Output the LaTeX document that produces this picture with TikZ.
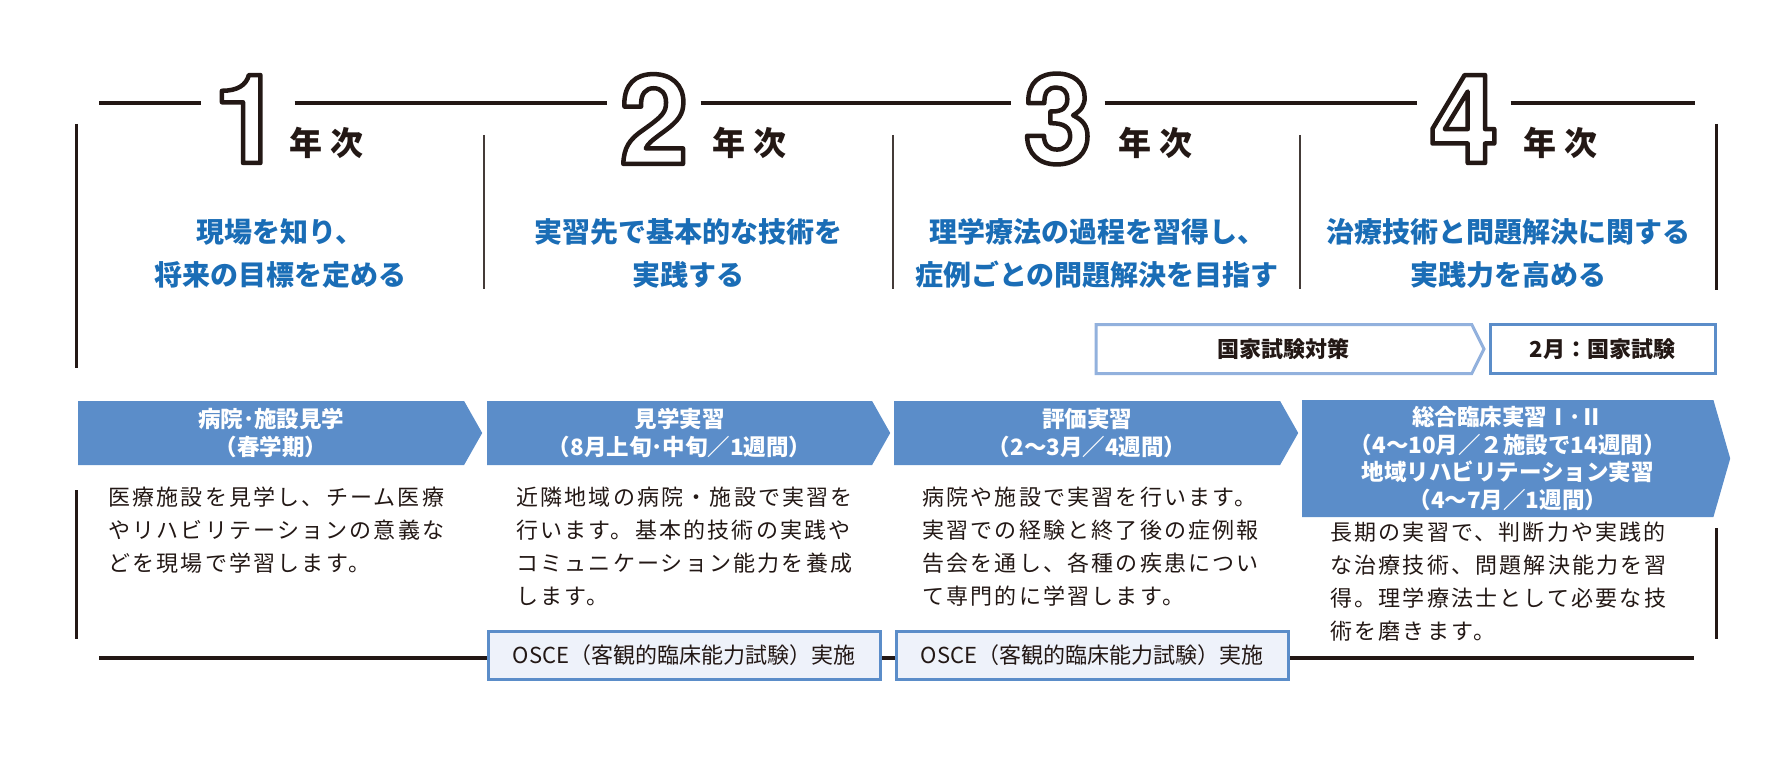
\documentclass[tikz,border=0pt]{standalone}
\usepackage{fontspec}
\usepackage{xcolor}
\setmainfont{Noto Sans CJK JP}
\newfontfamily\descfont[LetterSpace=10]{Noto Sans CJK JP}
\newfontfamily\yearfont[LetterSpace=22]{Noto Sans CJK JP}
\newfontfamily\digitfont{TeX Gyre Heros}
\usetikzlibrary{positioning,shapes.symbols}
\definecolor{ink}{HTML}{231815}
\definecolor{lead}{HTML}{1A6DB6}
\definecolor{phase}{HTML}{5B8DC9}
\definecolor{prep}{HTML}{92B1DD}
\definecolor{osce}{HTML}{EEF2FA}
% outlined numbers (stroke only)
\newcommand{\yearno}[1]{\special{pdf:literal direct 1 Tr 4.5 w 1 j}#1\special{pdf:literal direct 0 Tr}}
\tikzset{%
	rule/.style     = {line width=3.5pt, ink},
	edge/.style     = {line width=3pt, ink},
	divider/.style  = {line width=1.3pt, ink!85},
	digit/.style    = {font=\digitfont\bfseries\fontsize{124}{124}\selectfont, text=ink, inner xsep=12pt, inner ysep=0pt},
	year/.style     = {font=\yearfont\bfseries\fontsize{33}{33}\selectfont, text=ink, inner sep=0pt},
	lead/.style     = {font=\bfseries\fontsize{28}{43}\selectfont, text=lead, align=center, inner sep=0pt},
	phase/.style    = {signal, signal to=east, fill=phase, text=white, font=\bfseries\fontsize{22.5}{27.5}\selectfont, align=center, inner sep=0pt, anchor=west},
	prep/.style     = {signal, signal to=east, signal pointer angle=127, draw=prep, fill=white, line width=3pt, minimum width=388pt, minimum height=49pt, font=\bfseries\fontsize{22}{22}\selectfont, text=ink, inner sep=0pt, anchor=west},
	exam/.style     = {draw=phase, fill=white, line width=3pt, minimum width=225pt, minimum height=49pt, font=\bfseries\fontsize{22}{22}\selectfont, text=ink, inner sep=0pt, anchor=west},
	osce/.style     = {draw=phase, fill=osce, line width=3pt, minimum width=392pt, minimum height=48pt, font=\fontsize{22}{22}\selectfont, text=ink, inner sep=0pt, anchor=west},
	desc/.style     = {font=\descfont\fontsize{22}{33}\selectfont, text=ink, align=left, anchor=north west, inner sep=0pt},
}
\begin{document}
\begin{tikzpicture}[x=1pt, y=-1pt]
	\useasboundingbox (0,0) rectangle (1790,773);

	% year numbers
	\node[digit] (d1) at (248,119) {\yearno{1}};
	\node[digit] (d2) at (654,119) {\yearno{2}};
	\node[digit] (d3) at (1058,119) {\yearno{3}};
	\node[digit] (d4) at (1464,119) {\yearno{4}};
	\node[year, right=-5pt of d1, yshift=-24pt] (y1) {年次};
	\node[year, right=12pt of d2, yshift=-24pt] (y2) {年次};
	\node[year, right=14pt of d3, yshift=-24pt] (y3) {年次};
	\node[year, right=13pt of d4, yshift=-24pt] (y4) {年次};

	% frame
	\coordinate (tl) at (99,103);
	\coordinate (tr) at (1695,103);
	\coordinate (bl) at (99,658);
	\coordinate (br) at (1694,658);
	\draw[rule] (tl) -- (tl -| d1.west);
	\draw[rule] (tl -| d1.east) -- (tl -| d2.west);
	\draw[rule] (tl -| d2.east) -- (tl -| d3.west);
	\draw[rule] (tl -| d3.east) -- (tl -| d4.west);
	\draw[rule] (tl -| d4.east) -- (tr);
	\draw[rule] (bl) -- (br);
	\draw[edge] (76,124) -- (76,368);
	\draw[edge] (76,490) -- (76,639);
	\draw[edge] (1716,124) -- (1716,290);
	\draw[edge] (1716,528) -- (1716,639);
	\draw[divider] (484,135) -- (484,289);
	\draw[divider] (893,135) -- (893,289);
	\draw[divider] (1300,135) -- (1300,289);

	% aims
	\node[lead] (a1) at (280,253) {現場を知り、\\将来の目標を定める};
	\node[lead] (a2) at (688,253) {実習先で基本的な技術を\\実践する};
	\node[lead] (a3) at (1097,253) {理学療法の過程を習得し、\\症例ごとの問題解決を目指す};
	\node[lead] (a4) at (1508,253) {治療技術と問題解決に関する\\実践力を高める};

	% national exam
	\node[prep] (np) at (1094.5,349) {国家試験対策};
	\node[exam] (ne) at (1488.5,349) {2月：国家試験};

	% practice
	\node[phase, minimum width=404pt, minimum height=64pt, signal pointer angle=121] (p1) at (78,433) {病院･施設見学\\（春学期）};
	\node[phase, minimum width=403pt, minimum height=64pt, signal pointer angle=121] (p2) at (487,433) {見学実習\\（8月上旬･中旬／1週間）};
	\node[phase, minimum width=404pt, minimum height=64pt, signal pointer angle=121] (p3) at (894,433) {評価実習\\（2〜3月／4週間）};
	\node[phase, minimum width=428pt, minimum height=117pt, signal pointer angle=148] (p4) at (1302,458.5) {総合臨床実習Ⅰ･Ⅱ\\（4〜10月／２施設で14週間）\\地域リハビリテーション実習\\（4〜7月／1週間）};

	\node[desc] (t1) at (108,487) {医療施設を見学し、チーム医療\\やリハビリテーションの意義な\\どを現場で学習します。};
	\node[desc] (t2) at (516,487) {近隣地域の病院・施設で実習を\\行います。基本的技術の実践や\\コミュニケーション能力を養成\\します。};
	\node[desc] (t3) at (922,487) {病院や施設で実習を行います。\\実習での経験と終了後の症例報\\告会を通し、各種の疾患につい\\て専門的に学習します。};
	\node[desc] (t4) at (1330,522) {長期の実習で、判断力や実践的\\な治療技術、問題解決能力を習\\得。理学療法士として必要な技\\術を磨きます。};

	% OSCE
	\node[osce] (o2) at (486.5,655.5) {OSCE（客観的臨床能力試験）実施};
	\node[osce] (o3) at (894.5,655.5) {OSCE（客観的臨床能力試験）実施};
\end{tikzpicture}
\end{document}
